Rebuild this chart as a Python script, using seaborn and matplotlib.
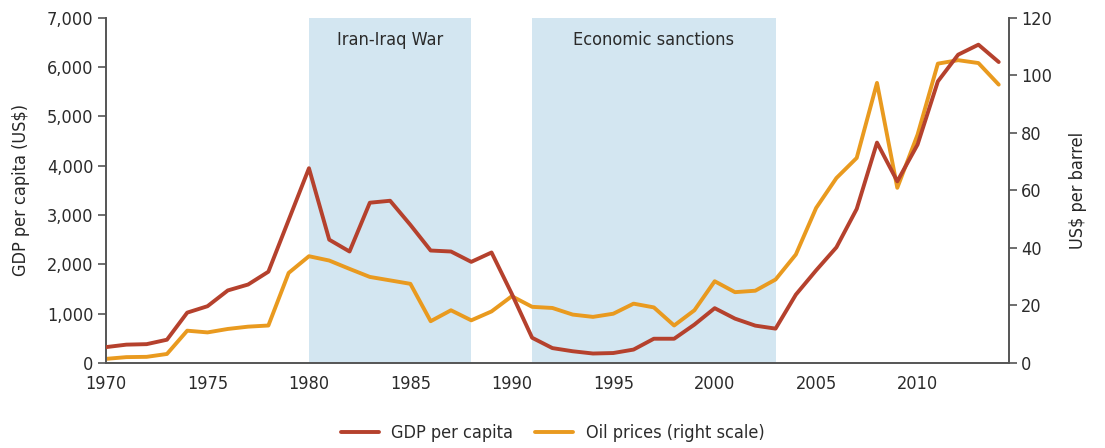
import matplotlib
matplotlib.use("Agg")
import matplotlib.pyplot as plt
import matplotlib.ticker as ticker
from matplotlib.lines import Line2D
import pandas as pd
import seaborn as sns

years = list(range(1970, 2015))

gdp_per_capita = [320, 370, 380, 470, 1020, 1150, 1470, 1590, 1850, 2900,
                  3950, 2500, 2260, 3250, 3290, 2800, 2280, 2260, 2050, 2240,
                  1400, 510, 300, 236, 190, 200, 270, 490, 490, 777,
                  1110, 898, 756, 695, 1385, 1878, 2345, 3124, 4470, 3684,
                  4430, 5712, 6254, 6457, 6105]

oil_price = [1.4, 2.0, 2.1, 3.1, 11.2, 10.6, 11.8, 12.6, 13.0, 31.3,
             37.1, 35.6, 32.7, 29.9, 28.7, 27.5, 14.5, 18.3, 14.8, 17.9,
             23.2, 19.5, 19.1, 16.8, 16.0, 17.1, 20.6, 19.3, 13.0, 18.3,
             28.4, 24.6, 25.1, 29.0, 37.7, 53.9, 64.3, 71.3, 97.4, 60.9,
             79.4, 104.1, 105.3, 104.3, 96.8]

periods = [("Iran-Iraq War", 1980, 1988), ("Economic sanctions", 1991, 2003)]

gdp_color = "#b5412d"
oil_color = "#e99a1f"
shade_color = "#d3e6f1"
text_color = "#2b2b2b"
spine_color = "#555555"

df = pd.DataFrame({"year": years, "gdp": gdp_per_capita, "oil": oil_price})

sns.set_style("white")
plt.rcParams["font.family"] = ["DejaVu Sans"]
plt.rcParams["font.stretch"] = "condensed"
plt.rcParams["font.size"] = 13
plt.rcParams["text.color"] = text_color
plt.rcParams["xtick.color"] = spine_color
plt.rcParams["ytick.color"] = spine_color
plt.rcParams["xtick.labelcolor"] = text_color
plt.rcParams["ytick.labelcolor"] = text_color

fig = plt.figure(figsize=(11.05, 4.48), dpi=100)
ax = fig.add_axes([0.096, 0.19, 0.817, 0.77])
ax2 = ax.twinx()

# shading lives on the lower (right-scale) axes so both lines sit above it
for name, start, end in periods:
    ax2.axvspan(start, end, color=shade_color, lw=0, zorder=0)
    ax.text((start + end) / 2, 6560, name, ha="center", va="center",
            fontsize=13, color=text_color)

sns.lineplot(data=df, x="year", y="oil", ax=ax2, color=oil_color, linewidth=2.8, zorder=2)
sns.lineplot(data=df, x="year", y="gdp", ax=ax, color=gdp_color, linewidth=2.8, zorder=3)

ax.set_xlim(1970, 2014.5)
ax.set_ylim(0, 7000)
ax2.set_ylim(0, 120)
ax.set_xticks(range(1970, 2015, 5))
ax.set_yticks(range(0, 7001, 1000))
ax2.set_yticks(range(0, 121, 20))
ax.yaxis.set_major_formatter(ticker.FuncFormatter(lambda v, p: f"{int(v):,}"))

ax.set_xlabel("")
ax.set_ylabel("GDP per capita (US$)", fontsize=13, labelpad=12)
ax2.set_ylabel("US$ per barrel", fontsize=13, labelpad=12)

for a in (ax, ax2):
    a.tick_params(axis="both", direction="out", length=6, width=1.2, labelsize=13, pad=3)
    for s in a.spines.values():
        s.set_color(spine_color)
        s.set_linewidth(1.4)
    a.spines["top"].set_visible(False)
ax.spines["right"].set_visible(False)
ax2.spines["left"].set_visible(False)
ax2.spines["bottom"].set_visible(False)

ax2.set_zorder(1)
ax.set_zorder(2)
ax.patch.set_visible(False)
ax2.patch.set_facecolor("white")

handles = [Line2D([], [], color=gdp_color, lw=2.8), Line2D([], [], color=oil_color, lw=2.8)]
fig.legend(handles, ["GDP per capita", "Oil prices (right scale)"], loc="center",
           bbox_to_anchor=(0.5, 0.033), ncol=2, frameon=False, fontsize=13,
           handlelength=2.1, handletextpad=0.7, columnspacing=1.2)

plt.savefig("out.png", dpi=100)
